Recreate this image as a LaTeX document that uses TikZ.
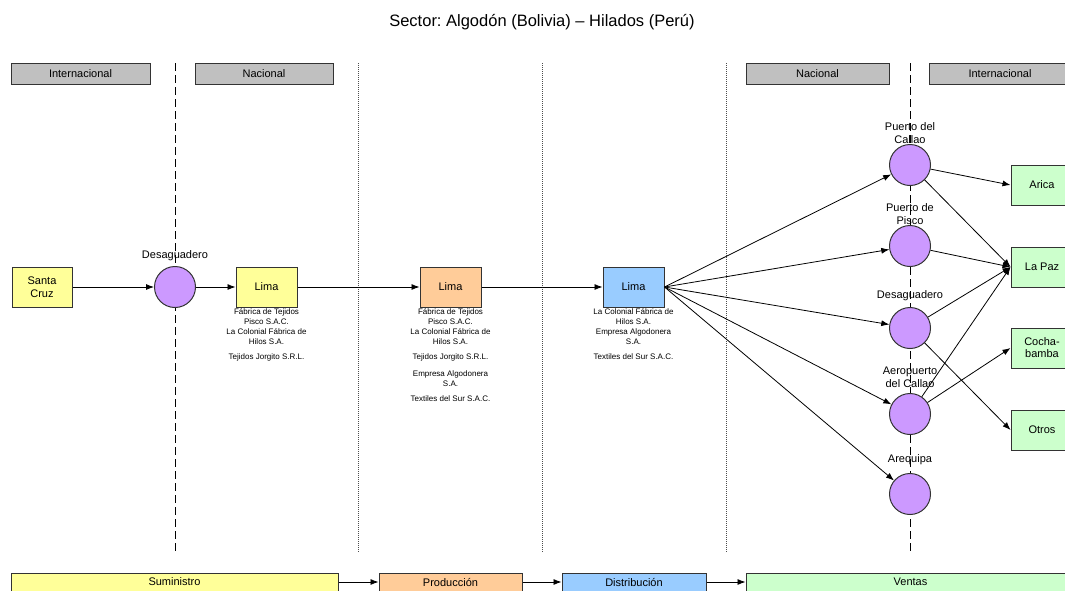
\documentclass[tikz,border=0pt]{standalone}
\usepackage{fontspec}
\setmainfont{Liberation Sans}
\frenchspacing
\usetikzlibrary{arrows.meta}
\definecolor{amarillo}{HTML}{FFFF99}
\definecolor{naranja}{HTML}{FFCC99}
\definecolor{celeste}{HTML}{99CCFF}
\definecolor{verde}{HTML}{CCFFCC}
\definecolor{lila}{HTML}{CC99FF}
\definecolor{gris}{HTML}{C0C0C0}
\begin{document}
\begin{tikzpicture}[x=1pt,y=-1pt,font=\fontsize{11}{13}\selectfont,>={Latex[length=8pt,width=6pt]}]
    \tikzstyle{caja}=[rectangle,draw=black!80,line width=1pt,minimum width=61pt,minimum height=40pt,inner sep=1pt,align=center]
    \tikzstyle{nodo}=[circle,draw=black!80,line width=1pt,fill=lila,minimum size=41pt,inner sep=0pt]
    \tikzstyle{banda}=[rectangle,draw=black!80,line width=1pt,fill=gris,minimum height=21pt,inner sep=0pt]
    \tikzstyle{etapa}=[rectangle,draw=black!80,line width=1pt,minimum height=18pt,inner sep=0pt]
    \tikzstyle{nota}=[font=\fontsize{8}{10}\selectfont,align=center,anchor=north,inner sep=0pt]
    \tikzstyle{rotulo}=[align=center,inner sep=0pt]
    \tikzstyle{flecha}=[->,line width=0.8pt]
    \tikzstyle{frontera}=[line width=1pt,dash pattern=on 8pt off 4pt]
    \tikzstyle{division}=[line width=0.8pt,black!70,dash pattern=on 1pt off 1pt]
    \path[use as bounding box,clip] (0,0) rectangle (1065,590);
    \fill[white] (0,0) rectangle (1065,590);
    \node[font=\fontsize{16.5}{19}\selectfont] (titulo) at (542,22) {Sector: Algodón (Bolivia) – Hilados (Perú)};
    % franjas de arriba
    \node[banda,minimum width=139pt] (intl1) at (80.5,73.5) {Internacional};
    \node[banda,minimum width=138pt] (nac1) at (264,73.5) {Nacional};
    \node[banda,minimum width=143pt] (nac2) at (817.5,73.5) {Nacional};
    \node[banda,minimum width=142pt] (intl2) at (1000,73.5) {Internacional};
    % fronteras y divisiones
    \draw[frontera] (175,63) -- (175,552);
    \draw[frontera] (910,63) -- (910,552);
    \draw[division] (358,63) -- (358,552);
    \draw[division] (542,63) -- (542,552);
    \draw[division] (726,63) -- (726,552);
    % cadena principal
    \node[caja,fill=amarillo,minimum width=60pt] (santa) at (42,287) {Santa\\Cruz};
    \node[nodo] (des1) at (175,287) {};
    \node[rotulo] (ldes1) at (175,256) {Desaguadero};
    \node[caja,fill=amarillo] (lima1) at (266.5,287) {Lima};
    \node[caja,fill=naranja] (lima2) at (450.5,287) {Lima};
    \node[caja,fill=celeste] (lima3) at (633.5,287) {Lima};
    \node[nota] (emp1) at (266.5,308.5) {Fábrica de Tejidos\\Pisco S.A.C.\\La Colonial Fábrica de\\Hilos S.A.\\[5pt]Tejidos Jorgito S.R.L.};
    \node[nota] (emp2) at (450.5,308.5) {Fábrica de Tejidos\\Pisco S.A.C.\\La Colonial Fábrica de\\Hilos S.A.\\[5pt]Tejidos Jorgito S.R.L.\\[7pt]Empresa Algodonera\\S.A.\\[5pt]Textiles del Sur S.A.C.};
    \node[nota] (emp3) at (633.5,308.5) {La Colonial Fábrica de\\Hilos S.A.\\Empresa Algodonera\\S.A.\\[5pt]Textiles del Sur S.A.C.};
    \draw[flecha] (santa) -- (des1);
    \draw[flecha] (des1) -- (lima1);
    \draw[flecha] (lima1) -- (lima2);
    \draw[flecha] (lima2) -- (lima3);
    % salidas
    \node[nodo] (callao) at (910,165) {};
    \node[nodo] (pisco) at (910,246) {};
    \node[nodo] (des2) at (910,328) {};
    \node[nodo] (aero) at (910,414) {};
    \node[nodo] (areq) at (910,494) {};
    \node[rotulo] (lcallao) at (910,133.5) {Puerto del\\Callao};
    \node[rotulo] (lpisco) at (910,214.5) {Puerto de\\Pisco};
    \node[rotulo] (ldes2) at (910,296) {Desaguadero};
    \node[rotulo] (laero) at (910,377.5) {Aeropuerto\\del Callao};
    \node[rotulo] (lareq) at (910,460) {Arequipa};
    \node[caja,fill=verde,minimum width=62pt] (arica) at (1042,185) {Arica};
    \node[caja,fill=verde,minimum width=62pt] (lapaz) at (1042,267) {La Paz};
    \node[caja,fill=verde,minimum width=62pt,font=\fontsize{11}{12}\selectfont] (cocha) at (1042,348) {Cocha-\\bamba};
    \node[caja,fill=verde,minimum width=62pt] (otros) at (1042,430) {Otros};
    \foreach \n in {callao,pisco,des2,aero,areq}
        \draw[flecha] (lima3.east) -- (\n);
    \draw[flecha] (callao) -- (arica.west);
    \draw[flecha] (callao) -- (lapaz.west);
    \draw[flecha] (pisco) -- (lapaz.west);
    \draw[flecha] (des2) -- (lapaz.west);
    \draw[flecha] (des2) -- (otros.west);
    \draw[flecha] (aero) -- (lapaz.west);
    \draw[flecha] (aero) -- (cocha.west);
    % etapas de abajo
    \node[etapa,fill=amarillo,minimum width=327pt] (sumi) at (174.5,582) {Suministro};
    \node[etapa,fill=naranja,minimum width=143pt] (prod) at (450.5,582) {Producción};
    \node[etapa,fill=celeste,minimum width=144pt] (dist) at (634,582) {Distribución};
    \node[etapa,fill=verde,minimum width=329pt] (vent) at (910.5,582) {Ventas};
    \draw[flecha] (sumi) -- (prod);
    \draw[flecha] (prod) -- (dist);
    \draw[flecha] (dist) -- (vent);
\end{tikzpicture}
\end{document}
